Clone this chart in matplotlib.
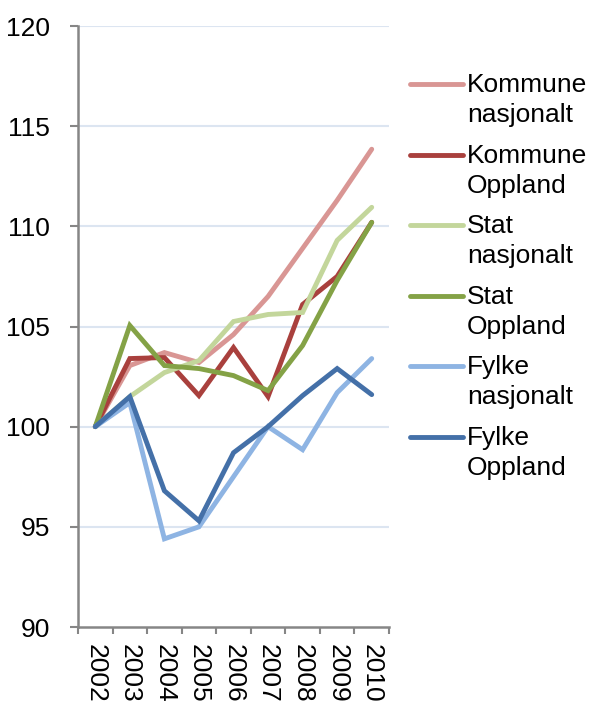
import numpy as np
import matplotlib
matplotlib.use('Agg')
import matplotlib.pyplot as plt
from matplotlib.lines import Line2D

plt.rcParams['font.family'] = ['Liberation Sans', 'DejaVu Sans']

# Data
years = ['2002', '2003', '2004', '2005', '2006', '2007', '2008', '2009', '2010']
kommune_nasjonalt = [100, 103.05, 103.7, 103.2, 104.6, 106.5, 108.9, 111.3, 113.85]
kommune_oppland = [100, 103.4, 103.45, 101.55, 103.95, 101.5, 106.1, 107.5, 110.2]
stat_nasjonalt = [100, 101.5, 102.7, 103.3, 105.25, 105.6, 105.7, 109.3, 110.95]
stat_oppland = [100, 105.05, 103.05, 102.9, 102.55, 101.8, 104.05, 107.3, 110.2]
fylke_nasjonalt = [100, 101.2, 94.4, 95.0, 97.5, 100.0, 98.85, 101.7, 103.4]
fylke_oppland = [100, 101.5, 96.8, 95.3, 98.7, 100.0, 101.55, 102.9, 101.6]

series = [
    ('Kommune\nnasjonalt', kommune_nasjonalt, '#D99694'),
    ('Kommune\nOppland', kommune_oppland, '#A9403D'),
    ('Stat\nnasjonalt', stat_nasjonalt, '#C3D69B'),
    ('Stat\nOppland', stat_oppland, '#84A246'),
    ('Fylke\nnasjonalt', fylke_nasjonalt, '#8EB4E3'),
    ('Fylke\nOppland', fylke_oppland, '#4470A8'),
]

fig = plt.figure(figsize=(5.9, 7.02), dpi=100)
ax = fig.add_axes([78 / 590, 1 - 627 / 702, (389 - 78) / 590, (627 - 26) / 702])

x = np.arange(len(years))
for label, vals, col in series:
    ax.plot(x, vals, color=col, lw=3.5, solid_joinstyle='miter', solid_capstyle='round')

ax.set_ylim(90, 120)
ax.set_xlim(-0.5, len(years) - 0.5)
ax.set_yticks(np.arange(90, 121, 5))
for yv in range(95, 121, 5):
    ax.axhline(yv, color='#DCE5F1', lw=1.5, zorder=0)

ax.set_xticks(np.arange(-0.5, len(years), 1))
ax.set_xticklabels([])
ax.set_xticks(x, minor=True)
ax.set_xticklabels(years, minor=True, rotation=270, fontsize=19)
ax.tick_params(axis='x', which='minor', length=0, pad=12)
ax.tick_params(axis='x', which='major', length=5, width=1.5, color='#868686')
ax.tick_params(axis='y', length=6, width=1.5, color='#868686', labelsize=19, pad=14)

for s in ['top', 'right']:
    ax.spines[s].set_visible(False)
for s in ['left', 'bottom']:
    ax.spines[s].set_color('#868686')
    ax.spines[s].set_linewidth(1.8)

# legend drawn by hand so the key sits on the first text line
y0 = 84
for i, (label, vals, col) in enumerate(series):
    yy = 1 - (y0 + i * 70.6) / 702
    fig.add_artist(Line2D([410 / 590, 463 / 590], [yy, yy], color=col, lw=3.5,
                          solid_capstyle='round', transform=fig.transFigure))
    fig.text(467 / 590, yy + 11 / 702, label, fontsize=19, va='top', ha='left',
             linespacing=1.32)

fig.savefig('out.png', dpi=100)
